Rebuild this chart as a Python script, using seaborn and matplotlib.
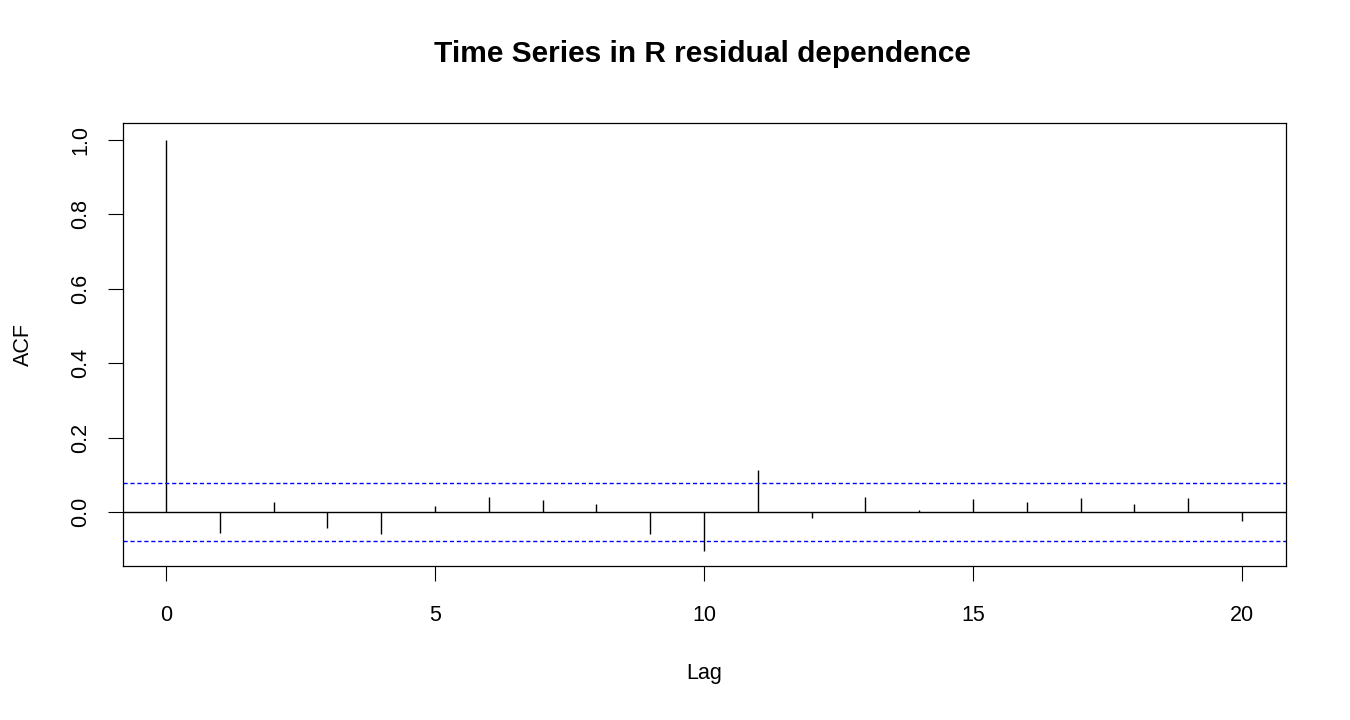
import numpy as np
import matplotlib
matplotlib.use("Agg")
import matplotlib.pyplot as plt
import seaborn as sns

# ACF values
lags = list(range(0, 21))
acf = [1.0, -0.056, 0.027, -0.042, -0.058, 0.016, 0.040, 0.032, 0.022, -0.058,
       -0.104, 0.113, -0.016, 0.040, 0.005, 0.035, 0.027, 0.038, 0.022, 0.038,
       -0.023]
conf_bound = 0.078
x_ticks = [0, 5, 10, 15, 20]
y_ticks = [0.0, 0.2, 0.4, 0.6, 0.8, 1.0]

sns.set_theme(style="white")
plt.rcParams['font.family'] = ['Liberation Sans', 'DejaVu Sans']

fig = plt.figure(figsize=(13.5, 7.2), dpi=100)
ax = fig.add_axes([0.0911, 0.2139, 0.8615, 0.6153])

ax.vlines(lags, 0, acf, color='black', lw=1.0)
ax.axhline(0, color='black', lw=1.0)
ax.axhline(conf_bound, color='#0000ff', lw=1.0, linestyle=(0, (3, 2)))
ax.axhline(-conf_bound, color='#0000ff', lw=1.0, linestyle=(0, (3, 2)))

ax.set_xlim(-0.8, 20.82)
ax.set_ylim(-0.145, 1.0457)
ax.set_xticks(x_ticks)
ax.set_yticks(y_ticks)
ax.set_yticklabels([f"{v:.1f}" for v in y_ticks], rotation=90, va='center')

ax.tick_params(axis='x', bottom=True, direction='out', length=10.8, width=0.8,
               color='black', pad=17, labelsize=15.5, labelcolor='black')
ax.tick_params(axis='y', left=True, direction='out', length=10.8, width=0.8,
               color='black', pad=12, labelsize=15.5, labelcolor='black')
for s in ax.spines.values():
    s.set_color('black')
    s.set_linewidth(0.9)

ax.set_xlabel("Lag", fontsize=15.5, color='black', labelpad=27)
ax.set_ylabel("ACF", fontsize=15.5, color='black', labelpad=26)
fig.suptitle("Time Series in R residual dependence", fontsize=21.5, fontweight='bold',
             color='black', y=0.945, x=0.5205)

fig.savefig("out.png", dpi=100, facecolor='white')
